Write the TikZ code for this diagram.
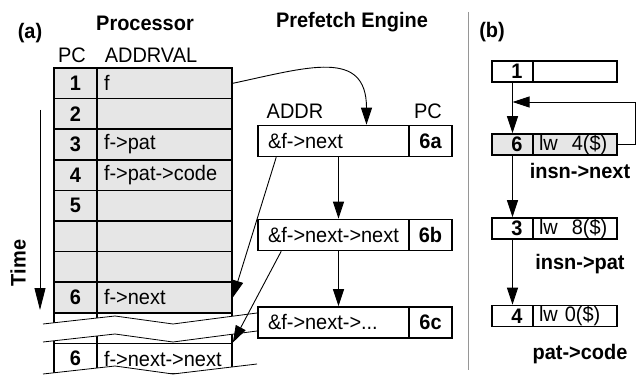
\documentclass[tikz,border=0pt]{standalone}
\usepackage{fontspec}
\setmainfont[FakeStretch=0.95]{Liberation Sans}
\usetikzlibrary{arrows.meta}
\definecolor{cellgray}{RGB}{230,230,230}
\definecolor{rulegray}{RGB}{150,150,150}
\newcommand\fsz{\fontsize{21}{24}\selectfont}
\tikzset{
  cell/.style={draw, line width=1.6pt, inner sep=0pt, minimum height=30.6pt, font=\fsz},
  pccell/.style={cell, minimum width=43pt, font=\fsz\bfseries},
  valcell/.style={cell, text width=121pt, inner xsep=7pt, align=left},
  addrcell/.style={cell, minimum height=31pt, text width=131pt, inner xsep=10pt, align=left},
  smallpc/.style={cell, minimum height=21pt, text width=20pt, inner xsep=10.5pt, align=right, font=\fsz\bfseries},
  smallins/.style={cell, minimum height=21pt, text width=72pt, inner xsep=6pt, align=left},
  lbl/.style={font=\fsz},
  blbl/.style={font=\fsz\bfseries},
  arr/.style={-{Triangle[length=17pt,width=11pt]}, line width=0.9pt},
  zig/.style={line width=0.8pt}
}
\begin{document}
\begin{tikzpicture}[x=1pt,y=1pt]
  \useasboundingbox (0,0) rectangle (639,375);
  % headings
  \node[blbl] (atag) at (30,342) {(a)};
  \node[blbl] (proc) at (145,352) {Processor};
  \node[lbl] (pchead) at (72,320) {PC};
  \node[lbl] (avhead) at (151,320) {ADDRVAL};
  \node[blbl] (pfe) at (352,353) {Prefetch Engine};
  \node[lbl] (adhead) at (295,264) {ADDR};
  \node[lbl] (pfhead) at (428,264) {PC};
  % processor table
  \foreach \i/\pc/\val/\fc in {1/1/f/cellgray, 2/2//cellgray, 3/3/f->pat/cellgray,
      4/4/f->pat->code/cellgray, 5/5//cellgray, 6///cellgray, 7///cellgray,
      8/6/f->next/cellgray, 9///white, 10/6/f->next->next/white} {
    \node[pccell, fill=\fc] (pc\i) at (75.5,{322.3-30.6*\i}) {\pc};
    \node[valcell, fill=\fc] (val\i) at (164.5,{322.3-30.6*\i}) {\val};
  }
  % break in the table
  \fill[white] (43,51) -- (115,59) -- (173,51) -- (257,62) -- (257,44) -- (173,33) -- (115,41) -- (43,33) -- cycle;
  \draw[zig] (43,51) -- (115,59) -- (173,51) -- (257,62);
  \draw[zig] (43,33) -- (115,41) -- (173,33) -- (257,44);
  \fill[white] (43,1) -- (115,9) -- (173,1) -- (257,11) -- (257,-2) -- (43,-2) -- cycle;
  \draw[zig] (43,1) -- (115,9) -- (173,1) -- (257,11);
  % time axis
  \coordinate (t0) at (40,265);
  \coordinate (t1) at (40,65);
  \draw[-{Triangle[length=22pt,width=11pt]}, line width=0.9pt] (t0) -- (t1);
  \node[blbl, rotate=90] (time) at (18,112) {Time};
  % prefetch engine
  \node[addrcell] (ad1) at (333.5,234) {\&f->next};
  \node[pccell, minimum height=31pt] (pf1) at (430.5,234) {6a};
  \node[addrcell] (ad2) at (333.5,140) {\&f->next->next};
  \node[pccell, minimum height=31pt] (pf2) at (430.5,140) {6b};
  \node[addrcell] (ad3) at (333.5,52.5) {\&f->next->...};
  \node[pccell, minimum height=31pt] (pf3) at (430.5,52.5) {6c};
  \draw[arr] (val1.east) to[out=12,in=90,looseness=1.4] ([xshift=33pt]ad1.north);
  \draw[arr] ([xshift=5pt]ad1.south) -- ([xshift=5pt]ad2.north);
  \draw[arr] ([xshift=5pt]ad2.south) -- ([xshift=5pt]ad3.north);
  \draw[arr] ([xshift=19pt]ad1.south west) -- (val8.east);
  \draw[arr] ([xshift=24pt]ad2.south west) -- (val10.north east);
  % separator
  \coordinate (d0) at (468,363);
  \coordinate (d1) at (468,5);
  \draw[rulegray, line width=1pt] (d0) -- (d1);
  % (b)
  \node[blbl] (btag) at (492,343) {(b)};
  \node[smallpc] (b1p) at (512.5,303.5) {1};
  \node[smallins] (b1i) at (575,303.5) {};
  \node[smallpc, fill=cellgray] (b6p) at (512.5,230.5) {6};
  \node[smallins, fill=cellgray] (b6i) at (575,230.5) {lw\ \ 4(\$)};
  \node[blbl] (l6) at (580,204) {insn->next};
  \node[smallpc] (b3p) at (512.5,146.5) {3};
  \node[smallins] (b3i) at (575,146.5) {lw\ \ 8(\$)};
  \node[blbl] (l3) at (580,111) {insn->pat};
  \node[smallpc] (b4p) at (512.5,59) {4};
  \node[smallins] (b4i) at (575,59) {lw 0(\$)};
  \node[blbl] (l4) at (580,21) {pat->code};
  \coordinate (fb) at (512.5,273);
  \draw[arr] (b1p.south) -- (b6p.north);
  \draw[arr] (b6i.east) -- ++(18,0) |- (fb);
  \draw[arr] (b6p.south) -- (b3p.north);
  \draw[arr] (b3p.south) -- (b4p.north);
\end{tikzpicture}
\end{document}
